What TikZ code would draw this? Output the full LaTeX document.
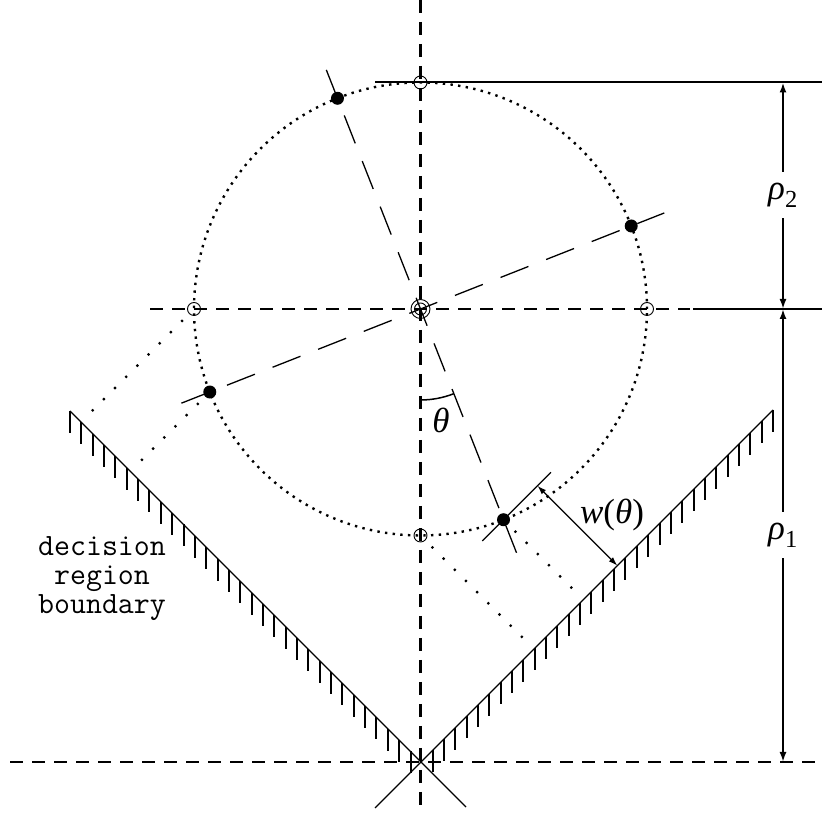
\documentclass[tikz,border=0pt]{standalone}
\usepackage{fontspec}
\setmainfont{Liberation Serif}
\usetikzlibrary{calc,arrows.meta}
\begin{document}
\begin{tikzpicture}[x=1pt,y=1pt,
  axis/.style={line width=2.2pt, dash pattern=on 13pt off 9pt},
  rotaxis/.style={line width=1.3pt, dash pattern=on 30pt off 19pt},
  solidline/.style={line width=2pt},
  arm/.style={line width=1.1pt},
  hatchtick/.style={line width=2pt},
  thinline/.style={line width=1.2pt},
  dotcircle/.style={line width=2.4pt, dash pattern=on 2.4pt off 5.3pt},
  proj/.style={line width=2.2pt, dash pattern=on 2.2pt off 13.6pt},
  odot/.style={circle, draw, line width=0.9pt, minimum size=13pt, inner sep=0pt},
  fdot/.style={circle, fill, minimum size=13pt, inner sep=0pt},
  dimarrow/.style={line width=2pt, {Latex[length=10pt,width=7pt]}-{Latex[length=10pt,width=7pt]}},
  warrow/.style={line width=1.3pt, {Latex[length=9pt,width=6pt]}-{Latex[length=9pt,width=6pt]}},
  lbl/.style={font=\fontsize{35}{35}\selectfont, inner sep=0pt},
  dimlbl/.style={lbl, fill=white, minimum height=46pt, minimum width=30pt},
  ttlab/.style={font=\ttfamily\fontsize{31}{29}\selectfont, align=center, inner sep=0pt},
  ]
\useasboundingbox (0,0) rectangle (822,813);
% main reference points
\coordinate (C) at (420.5,504);
% axes
\coordinate (vtop) at (420.5,813);
\coordinate (vbot) at (420.5,0);
\coordinate (hbl) at (10,51);
\coordinate (hbr) at (822,51);
\coordinate (hml) at (150,504);
\coordinate (hmr) at (690,504);
\coordinate (hsl) at (693,504);
\coordinate (hsr) at (822,504);
\coordinate (htl) at (375,730.5);
\coordinate (htr) at (822,730.5);
\draw[axis] (vtop) -- (vbot);
\draw[axis] (hbl) -- (hbr);
\draw[axis] (hml) -- (hmr);
\draw[solidline] (hsl) -- (hsr);
\draw[solidline] (htl) -- (htr);
% V-shaped decision boundary
\coordinate (armLtop) at (70,402);
\coordinate (armLend) at (466,6);
\coordinate (armRtop) at (773,403);
\coordinate (armRend) at (375,5);
\draw[arm] (armLtop) -- (armLend);
\draw[arm] (armRtop) -- (armRend);
\foreach \k in {0,...,30} {
  \draw[hatchtick] ({70+11.35*\k},{402-11.35*\k}) -- ++(0,-22);
  \draw[hatchtick] ({773-11.35*\k},{403-11.35*\k}) -- ++(0,-22);
}
% dotted circle
\draw[dotcircle] (C) circle[radius=226.5];
% rotated axes
\coordinate (Ttop) at ($(C)+(111.5:257)$);
\coordinate (Tbot) at ($(C)+(-68.5:262)$);
\coordinate (Pleft) at ($(C)+(201.5:257)$);
\coordinate (Pright) at ($(C)+(21.5:262)$);
\draw[rotaxis] (Ttop) -- (Tbot);
\draw[rotaxis] (Pleft) -- (Pright);
% centre symbol
\node[circle, draw, line width=0.9pt, minimum size=19pt, inner sep=0pt] (cOuter) at (C) {};
\node[circle, draw, line width=0.9pt, minimum size=12pt, inner sep=0pt] (cInner) at (C) {};
% points on circle
\node[odot] (oT) at ($(C)+(90:226.5)$) {};
\node[odot] (oB) at ($(C)+(-90:226.5)$) {};
\node[odot] (oL) at ($(C)+(180:226.5)$) {};
\node[odot] (oR) at ($(C)+(0:226.5)$) {};
\node[fdot] (dT) at ($(C)+(111.5:226.5)$) {};
\node[fdot] (dB) at ($(C)+(-68.5:226.5)$) {};
\node[fdot] (dL) at ($(C)+(201.5:226.5)$) {};
\node[fdot] (dR) at ($(C)+(21.5:226.5)$) {};
% projections onto the boundary
\draw[proj] ($(oL.center)+(225:15.8)$) -- ($(oL.center)+(225:146)$);
\draw[proj] ($(dL.center)+(225:15.8)$) -- ($(dL.center)+(225:97)$);
\draw[proj] ($(oB.center)+(-45:15.8)$) -- ($(oB.center)+(-45:146)$);
\draw[proj] ($(dB.center)+(-45:15.8)$) -- ($(dB.center)+(-45:98)$);
% width w(theta)
\coordinate (parA) at ($(dB.center)+(225:30)$);
\coordinate (parB) at ($(dB.center)+(45:67)$);
\draw[thinline] (parA) -- (parB);
\coordinate (wS) at ($(dB.center)+(45:48)$);
\coordinate (wE) at ($(wS)+(-45:113)$);
\draw[warrow] (wS) -- (wE);
% angle theta
\coordinate (arcS) at ($(C)+(-90:91)$);
\draw[line width=1.5pt] (arcS) arc[start angle=-90, end angle=-68.5, radius=91];
% dimensions
\coordinate (dimTop) at (783,730.5);
\coordinate (dimMid) at (783,504);
\coordinate (dimBot) at (783,51);
\draw[dimarrow] (dimTop) -- (dimMid);
\draw[dimarrow] (dimMid) -- (dimBot);
\node[dimlbl] (rho2) at (783,617.5) {\textit{ρ}\textsubscript{2}};
\node[dimlbl] (rho1) at (783,277.5) {\textit{ρ}\textsubscript{1}};
% labels
\node[lbl] (theta) at (441,393) {\textit{θ}};
\node[lbl] (wlab) at (612,298) {\textit{w}(\textit{θ})};
\node[ttlab] (dec) at (102,234) {decision\\region\\boundary};
\end{tikzpicture}
\end{document}
